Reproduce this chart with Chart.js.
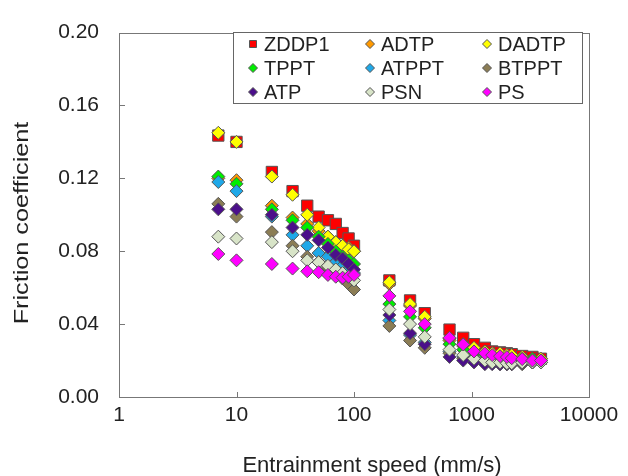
<!DOCTYPE html>
<html>
<head>
<meta charset="utf-8">
<script src="https://cdn.jsdelivr.net/npm/chart.js@4/dist/chart.umd.min.js"></script>
<style>
  html, body { margin: 0; padding: 0; background: #fff; }
  #wrap { width: 628px; height: 476px; }
</style>
</head>
<body>
<div id="wrap"><canvas id="chart" width="628" height="476"></canvas></div>
<script>
// Entrainment speeds (mm/s)
const speeds = [7, 10, 20, 30, 40, 50, 60, 70, 80, 90, 100, 200, 300, 400,
                650, 850, 1050, 1300, 1500, 1750, 2000, 2200, 2700, 3300, 3900];

// Friction coefficient per additive
const zddp1 = [0.1435, 0.140, 0.1235, 0.113, 0.105, 0.099, 0.097, 0.095, 0.090, 0.087, 0.083, 0.064, 0.053, 0.046,
               0.037, 0.0325, 0.029, 0.027, 0.025, 0.0245, 0.024, 0.0235, 0.0225, 0.022, 0.021];
const adtp  = [0.120, 0.119, 0.105, 0.0985, 0.095, 0.091, 0.088, 0.085, 0.083, 0.082, 0.080, 0.062, 0.050, 0.043,
               0.031, 0.028, 0.026, 0.025, 0.024, 0.023, 0.023, 0.022, 0.022, 0.021, 0.021];
const dadtp = [0.145, 0.140, 0.121, 0.111, 0.100, 0.093, 0.088, 0.085, 0.083, 0.081, 0.080, 0.063, 0.051, 0.044,
               0.032, 0.029, 0.027, 0.025, 0.024, 0.024, 0.023, 0.023, 0.022, 0.021, 0.021];
const tppt  = [0.121, 0.117, 0.103, 0.097, 0.093, 0.088, 0.084, 0.080, 0.077, 0.075, 0.073, 0.051, 0.044, 0.038,
               0.029, 0.026, 0.024, 0.023, 0.022, 0.022, 0.021, 0.021, 0.021, 0.021, 0.020];
const atppt = [0.118, 0.113, 0.099, 0.089, 0.083, 0.079, 0.077, 0.074, 0.072, 0.070, 0.068, 0.042, 0.034, 0.030,
               0.025, 0.022, 0.021, 0.020, 0.020, 0.019, 0.019, 0.019, 0.019, 0.019, 0.019];
const btppt = [0.106, 0.099, 0.0905, 0.083, 0.077, 0.074, 0.071, 0.068, 0.065, 0.062, 0.059, 0.039, 0.031, 0.027,
               0.024, 0.021, 0.020, 0.019, 0.019, 0.018, 0.018, 0.018, 0.018, 0.019, 0.019];
const atp   = [0.103, 0.103, 0.100, 0.093, 0.089, 0.086, 0.082, 0.078, 0.076, 0.073, 0.070, 0.045, 0.035, 0.029,
               0.022, 0.020, 0.019, 0.018, 0.018, 0.018, 0.018, 0.018, 0.0185, 0.019, 0.019];
const psn   = [0.088, 0.087, 0.085, 0.080, 0.075, 0.074, 0.072, 0.070, 0.068, 0.066, 0.064, 0.048, 0.040, 0.033,
               0.026, 0.023, 0.021, 0.020, 0.019, 0.019, 0.0185, 0.0185, 0.019, 0.019, 0.019];
const ps    = [0.0785, 0.075, 0.073, 0.0705, 0.069, 0.0685, 0.067, 0.066, 0.0655, 0.066, 0.067, 0.0555, 0.047, 0.040,
               0.0325, 0.0288, 0.025, 0.024, 0.023, 0.0224, 0.0219, 0.0213, 0.0208, 0.020, 0.020];

const seriesNames  = ["ZDDP1", "ADTP", "DADTP", "TPPT", "ATPPT", "BTPPT", "ATP", "PSN", "PS"];
const seriesData   = [zddp1, adtp, dadtp, tppt, atppt, btppt, atp, psn, ps];
const seriesColors = ["#ff0000", "#ff9900", "#ffff00", "#00ee00", "#1fa8e8", "#8b7d55", "#4b0f8a", "#d8e4c8", "#ff00ff"];
const seriesShapes = ["rect", "rectRot", "rectRot", "rectRot", "rectRot", "rectRot", "rectRot", "rectRot", "rectRot"];

const xTicks = [1, 10, 100, 1000, 10000];
const yTicks = [0, 0.04, 0.08, 0.12, 0.16, 0.20];
const xTitle = "Entrainment speed (mm/s)";
const yTitle = "Friction coefficient";

const FONT = "'Liberation Sans', Arial, sans-serif";
const FRAME = "#777777";
const TEXT = "#222222";

const datasets = seriesNames.map((name, i) => ({
    label: name,
    data: speeds.map((s, j) => ({ x: s, y: seriesData[i][j] })),
    pointStyle: seriesShapes[i],
    pointRadius: i === 0 ? 8 : 6.5,
    pointBackgroundColor: seriesColors[i],
    pointBorderColor: "#555555",
    pointBorderWidth: 1,
    showLine: false,
    order: seriesNames.length - i
}));

// frame, inward tick marks, axis titles and the boxed legend
const decorPlugin = {
    id: "decor",
    afterDraw(chart) {
        const ctx = chart.ctx;
        const a = chart.chartArea;
        const xs = chart.scales.x, ys = chart.scales.y;
        ctx.save();
        ctx.strokeStyle = FRAME;
        ctx.lineWidth = 1;
        ctx.strokeRect(Math.round(a.left) + 0.5, Math.round(a.top) + 0.5,
                       Math.round(a.right - a.left), Math.round(a.bottom - a.top));
        ctx.beginPath();
        xTicks.slice(1, -1).forEach(v => {
            const px = Math.round(xs.getPixelForValue(v)) + 0.5;
            ctx.moveTo(px, a.bottom);
            ctx.lineTo(px, a.bottom - 5);
        });
        yTicks.slice(1, -1).forEach(v => {
            const py = Math.round(ys.getPixelForValue(v)) + 0.5;
            ctx.moveTo(a.left, py);
            ctx.lineTo(a.left + 6, py);
        });
        ctx.stroke();

        // axis titles
        ctx.fillStyle = TEXT;
        ctx.textAlign = "center";
        ctx.textBaseline = "alphabetic";
        ctx.font = "22px " + FONT;
        ctx.fillText(xTitle, 372, 472);
        ctx.save();
        ctx.translate(28, 223);
        ctx.rotate(-Math.PI / 2);
        ctx.scale(1.2, 1);
        ctx.font = "21px " + FONT;
        ctx.fillText(yTitle, 0, 0);
        ctx.restore();

        // legend
        const lx = 233, ly = 32, lw = 349, lh = 71;
        ctx.fillStyle = "#ffffff";
        ctx.fillRect(lx, ly, lw, lh);
        ctx.strokeStyle = "#666666";
        ctx.strokeRect(lx + 0.5, ly + 0.5, lw, lh);
        const colX = [253, 370, 487];
        const rowY = [44, 68, 92];
        ctx.font = "20px " + FONT;
        ctx.textBaseline = "middle";
        ctx.textAlign = "left";
        seriesNames.forEach((name, i) => {
            const cx = colX[i % 3], cy = rowY[Math.floor(i / 3)];
            ctx.fillStyle = seriesColors[i];
            ctx.strokeStyle = "#555555";
            ctx.beginPath();
            if (i === 0) {
                ctx.rect(cx - 3.5, cy - 3.5, 7, 7);
            } else {
                ctx.moveTo(cx, cy - 4.5); ctx.lineTo(cx + 4.5, cy);
                ctx.lineTo(cx, cy + 4.5); ctx.lineTo(cx - 4.5, cy);
                ctx.closePath();
            }
            ctx.fill();
            ctx.stroke();
            ctx.fillStyle = TEXT;
            ctx.fillText(name, cx + 11, cy + 1);
        });
        ctx.restore();
    }
};

new Chart(document.getElementById("chart"), {
    type: "scatter",
    data: { datasets },
    options: {
        responsive: false,
        animation: false,
        layout: { padding: { top: 22, right: 39, left: 0, bottom: 0 } },
        plugins: { legend: { display: false }, tooltip: { enabled: false } },
        scales: {
            x: {
                type: "logarithmic",
                min: 1,
                max: 10000,
                afterBuildTicks: s => { s.ticks = xTicks.map(v => ({ value: v })); },
                afterFit: s => { s.height = 79; },
                grid: { display: false, drawTicks: false },
                border: { display: false },
                ticks: {
                    padding: 6,
                    color: TEXT,
                    font: { family: FONT, size: 21 },
                    callback: v => String(v)
                }
            },
            y: {
                min: 0,
                max: 0.2,
                afterBuildTicks: s => { s.ticks = yTicks.map(v => ({ value: v })); },
                afterFit: s => { s.width = 119; },
                grid: { display: false, drawTicks: false },
                border: { display: false },
                ticks: {
                    padding: 20,
                    color: TEXT,
                    font: { family: FONT, size: 21 },
                    callback: v => Number(v).toFixed(2)
                }
            }
        }
    },
    plugins: [decorPlugin]
});
</script>
</body>
</html>
